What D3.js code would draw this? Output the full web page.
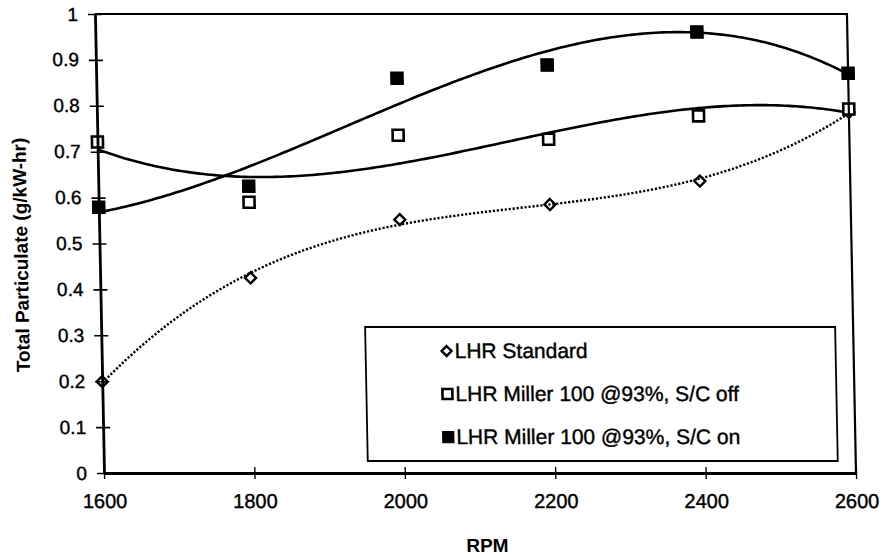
<!DOCTYPE html>
<html>
<head>
<meta charset="utf-8">
<script src="https://cdn.jsdelivr.net/npm/d3@7"></script>
<style>
  html, body { margin: 0; padding: 0; background: #fff; }
  svg { display: block; font-family: "Liberation Sans", Arial, sans-serif; }
  .ink { stroke: #000; stroke-width: 0.4px; paint-order: stroke; }
</style>
</head>
<body>
<svg id="chart" width="886" height="558"></svg>
<script>
// Engine speed (RPM) at which particulate was measured
const rpm = [1600, 1800, 2000, 2200, 2400, 2600];

// Total particulate, g/kW-hr
const lhrStandard = [0.199, 0.425, 0.552, 0.585, 0.636, 0.786];
const millerScOff = [0.721, 0.590, 0.736, 0.727, 0.778, 0.793];
const millerScOn  = [0.579, 0.625, 0.860, 0.889, 0.961, 0.871];

const seriesNames = ["LHR Standard", "LHR Miller 100 @93%, S/C off", "LHR Miller 100 @93%, S/C on"];

const xTicks = [1600, 1800, 2000, 2200, 2400, 2600];
const yTicks = [0, 0.1, 0.2, 0.3, 0.4, 0.5, 0.6, 0.7, 0.8, 0.9, 1];
const yTickLabels = ["0", "0.1", "0.2", "0.3", "0.4", "0.5", "0.6", "0.7", "0.8", "0.9", "1"];

const series = [
  { name: seriesNames[0], values: lhrStandard, marker: "diamond", dash: "2.2,1.8" },
  { name: seriesNames[1], values: millerScOff, marker: "square",  dash: null },
  { name: seriesNames[2], values: millerScOn,  marker: "filled",  dash: null }
];

// Plot frame
const plot = { left: 104, right: 856, top: 14, bottom: 473 };

const x = d3.scaleLinear().domain([1600, 2600]).range([plot.left, plot.right]);
const y = d3.scaleLinear().domain([0, 1]).range([plot.bottom, plot.top]);

// Third-order least-squares trendline for a series
function cubicTrend(xs, ys) {
  const cx = d3.mean(xs), sx = 100;
  const t = xs.map(v => (v - cx) / sx);
  const n = 4;
  const A = Array.from({ length: n }, () => new Array(n).fill(0));
  const b = new Array(n).fill(0);
  t.forEach((u, k) => {
    for (let i = 0; i < n; i++) {
      b[i] += ys[k] * Math.pow(u, i);
      for (let j = 0; j < n; j++) A[i][j] += Math.pow(u, i + j);
    }
  });
  // Gaussian elimination
  for (let i = 0; i < n; i++) {
    let p = i;
    for (let r = i + 1; r < n; r++) if (Math.abs(A[r][i]) > Math.abs(A[p][i])) p = r;
    [A[i], A[p]] = [A[p], A[i]]; [b[i], b[p]] = [b[p], b[i]];
    for (let r = i + 1; r < n; r++) {
      const f = A[r][i] / A[i][i];
      for (let c = i; c < n; c++) A[r][c] -= f * A[i][c];
      b[r] -= f * b[i];
    }
  }
  const coef = new Array(n).fill(0);
  for (let i = n - 1; i >= 0; i--) {
    let s = b[i];
    for (let c = i + 1; c < n; c++) s -= A[i][c] * coef[c];
    coef[i] = s / A[i][i];
  }
  return v => {
    const u = (v - cx) / sx;
    return coef[0] + coef[1] * u + coef[2] * u * u + coef[3] * u * u * u;
  };
}

function markerPath(type, cx, cy, s) {
  const h = s / 2;
  if (type === "diamond") {
    return `M${cx},${cy - h}L${cx + h},${cy}L${cx},${cy + h}L${cx - h},${cy}Z`;
  }
  return `M${cx - h},${cy - h}H${cx + h}V${cy + h}H${cx - h}Z`;
}

function drawMarker(sel, type, cx, cy, scale = 1) {
  if (type === "diamond") {
    sel.append("path").attr("d", markerPath("diamond", cx, cy, 11 * scale))
      .attr("fill", "none").attr("stroke", "#000").attr("stroke-width", 2.4);
  } else if (type === "square") {
    sel.append("path").attr("d", markerPath("square", cx, cy, 11 * scale))
      .attr("fill", "#fff").attr("stroke", "#000").attr("stroke-width", 2.6);
  } else {
    sel.append("path").attr("d", markerPath("square", cx, cy, 12.5 * scale))
      .attr("fill", "#000").attr("stroke", "#000").attr("stroke-width", 1);
  }
}

const svg = d3.select("#chart");
// slight shear of the whole page frame
const shear = 1.13;
const g = svg.append("g")
  .attr("transform", `translate(${-Math.tan(shear * Math.PI / 180) * plot.bottom},0) skewX(${shear})`);

// Trendlines
const samples = d3.range(1600, 2600.001, 5);
series.forEach(s => {
  const f = cubicTrend(rpm, s.values);
  const line = d3.line().x(d => x(d)).y(d => y(f(d)));
  g.append("path")
    .attr("d", line(samples))
    .attr("fill", "none")
    .attr("stroke", "#000")
    .attr("stroke-width", s.dash ? 2.4 : 2.6)
    .attr("stroke-dasharray", s.dash);
});

// Markers
series.forEach(s => {
  const mg = g.append("g");
  s.values.forEach((v, i) => drawMarker(mg, s.marker, x(rpm[i]), y(v)));
});

// Frame: top and right border
g.append("path")
  .attr("d", `M${plot.left},${plot.top}H${plot.right}V${plot.bottom}`)
  .attr("fill", "none").attr("stroke", "#000").attr("stroke-width", 2.2);

// Y axis with cross ticks
const yAxis = d3.axisLeft(y).tickValues(yTicks)
  .tickFormat((d, i) => yTickLabels[i]).tickSizeInner(7).tickSizeOuter(0).tickPadding(8);
const ya = g.append("g").attr("transform", `translate(${plot.left},0)`).call(yAxis);
ya.select(".domain").attr("stroke-width", 2.8);
ya.selectAll(".tick line").attr("x2", -7).attr("x1", 7).attr("stroke-width", 1.6);
ya.selectAll(".tick text").attr("font-size", 19).attr("fill", "#000").attr("class", "ink")
  .attr("font-family", "'Liberation Sans', Arial, sans-serif").attr("x", -17);

// X axis with cross ticks
const xAxis = d3.axisBottom(x).tickValues(xTicks).tickFormat(d3.format("d"))
  .tickSizeInner(6).tickSizeOuter(0).tickPadding(0);
const xa = g.append("g").attr("transform", `translate(0,${plot.bottom})`).call(xAxis);
xa.select(".domain").attr("stroke-width", 2.8);
xa.selectAll(".tick line").attr("y1", -6).attr("y2", 6).attr("stroke-width", 1.4);
xa.selectAll(".tick text").attr("font-size", 20).attr("fill", "#000").attr("class", "ink")
  .attr("font-family", "'Liberation Sans', Arial, sans-serif")
  .attr("dy", null).attr("y", 35);

// Axis titles
g.append("text")
  .attr("transform", "translate(32,255) rotate(-90)")
  .attr("text-anchor", "middle")
  .attr("font-size", 19).attr("font-weight", "bold")
  .text("Total Particulate (g/kW-hr)");

g.append("text")
  .attr("x", 486).attr("y", 552)
  .attr("text-anchor", "middle")
  .attr("font-size", 19).attr("font-weight", "bold")
  .text("RPM");

// Legend
const legend = { left: 368, top: 327, right: 838, bottom: 461 };
const lg = g.append("g");
lg.append("rect")
  .attr("x", legend.left).attr("y", legend.top)
  .attr("width", legend.right - legend.left).attr("height", legend.bottom - legend.top)
  .attr("fill", "#fff").attr("stroke", "#000").attr("stroke-width", 1.8);
const rowY = [351, 394, 437];
series.forEach((s, i) => {
  drawMarker(lg, s.marker, 449, rowY[i], 0.9);
  lg.append("text")
    .attr("x", 457).attr("y", rowY[i])
    .attr("dominant-baseline", "central")
    .attr("font-size", 21).attr("class", "ink")
    .text(s.name);
});
</script>
</body>
</html>
